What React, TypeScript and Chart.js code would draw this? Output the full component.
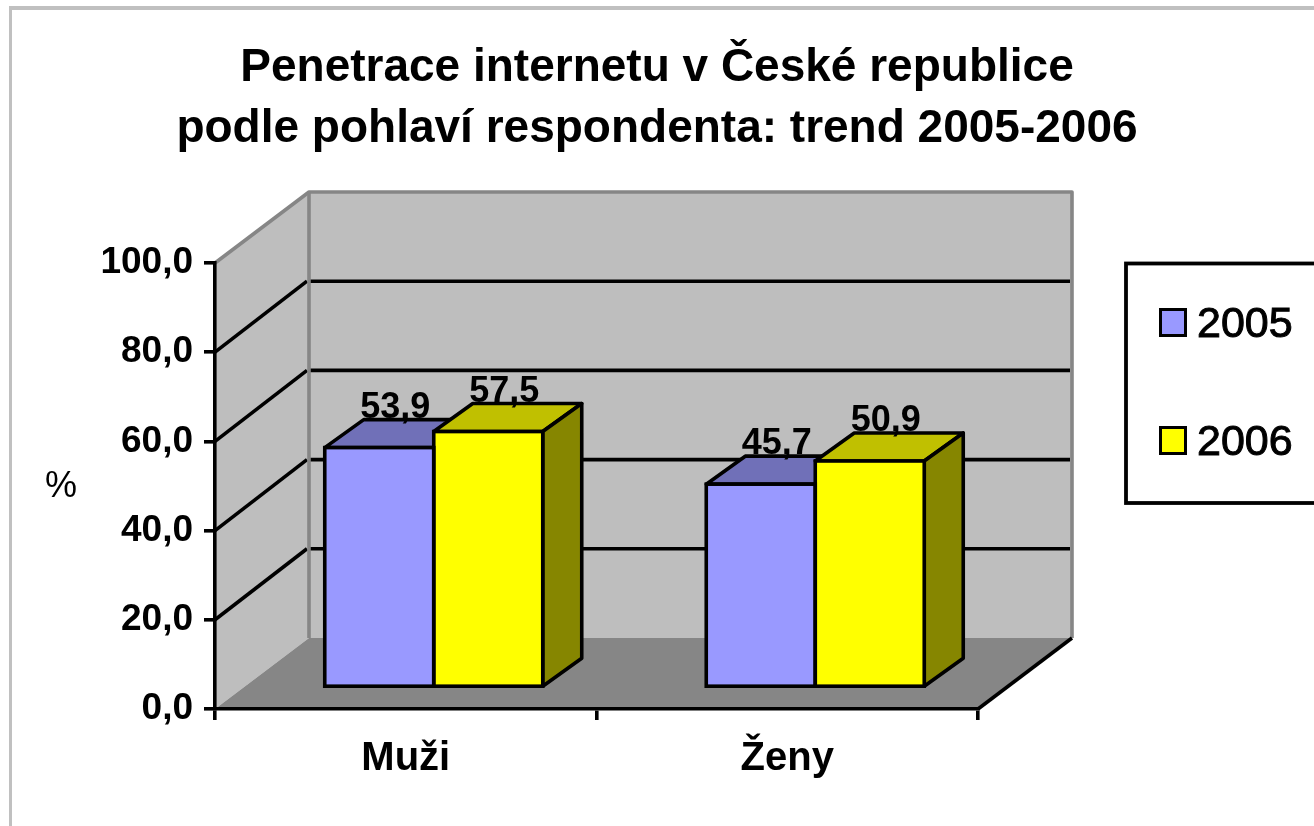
import React, { useEffect, useRef } from "react";
import { Chart, registerables } from "chart.js";

Chart.register(...registerables);

const titleLines = ["Penetrace internetu v České republice", "podle pohlaví respondenta: trend 2005-2006"];
const categories = ["Muži", "Ženy"];
const years = ["2005", "2006"];
const values2005 = [53.9, 45.7];
const values2006 = [57.5, 50.9];
const faceColors = ["#9999FF", "#FFFF00"];
const topColors = ["#7070B8", "#C0C000"];
const sideColors = ["#6C6CB0", "#868600"];
const unitLabel = "%";

const FONT = '"Liberation Sans", Arial, sans-serif';
const WALL_DX = 94;
const WALL_DY = -71;
const BAR_DX = 28;
const BAR_DY = -21;
const DEPTH_DX = 39;
const DEPTH_DY = -28;
const LINE = 3.6;

function poly(ctx: CanvasRenderingContext2D, pts: number[][], fill: string | null, stroke: string | null, lw = LINE) {
  ctx.beginPath();
  pts.forEach((p, i) => (i ? ctx.lineTo(p[0], p[1]) : ctx.moveTo(p[0], p[1])));
  if (fill) {
    ctx.closePath();
    ctx.fillStyle = fill;
    ctx.fill();
  }
  if (stroke) {
    ctx.lineJoin = "round";
    ctx.strokeStyle = stroke;
    ctx.lineWidth = lw;
    ctx.stroke();
  }
}

const scene = {
  id: "scene",
  afterLayout(chart: any) {
    // centre the title on the whole canvas, not on the plot column
    if (chart.titleBlock) {
      chart.titleBlock.left = 0;
      chart.titleBlock.right = chart.width;
      chart.titleBlock.width = chart.width;
    }
  },
  beforeDraw(chart: any) {
    const { ctx, chartArea: a, scales } = chart;
    const y = scales.y;
    ctx.save();
    ctx.fillStyle = "#FFFFFF";
    ctx.fillRect(0, 0, chart.width, chart.height);
    // page frame
    ctx.fillStyle = "#C0C0C0";
    ctx.fillRect(9, 6, chart.width - 9, 4);
    ctx.fillRect(9, 6, 3, chart.height - 6);
    const L = a.left, R = a.right, T = a.top, B = a.bottom;
    const d = (x: number, yy: number) => [x + WALL_DX, yy + WALL_DY];
    // walls and floor
    poly(ctx, [[L, T], d(L, T), d(L, B), [L, B]], "#BEBEBE", null);
    poly(ctx, [d(L, T), d(R, T), d(R, B), d(L, B)], "#BEBEBE", null);
    poly(ctx, [[L, B], [R, B], d(R, B), d(L, B)], "#868686", null);
    // gridlines on both walls
    y.ticks.forEach((t: any) => {
      if (t.value === 0 || t.value === 100) return;
      const py = y.getPixelForValue(t.value);
      poly(ctx, [[L, py], d(L - 2, py)], null, "#000000");
      poly(ctx, [d(L, py), d(R - 2, py)], null, "#000000");
    });
    // wall edges
    poly(ctx, [[L, T], d(L, T), d(R, T), d(R, B)], null, "#868686");
    poly(ctx, [d(L, T), d(L, B)], null, "#868686");
    poly(ctx, [[R, B], d(R, B)], null, "#000000");
    // axis title
    ctx.fillStyle = "#000000";
    ctx.font = `36px ${FONT}`;
    ctx.textAlign = "center";
    ctx.textBaseline = "alphabetic";
    ctx.fillText(unitLabel, 61, 497);
    ctx.restore();
  },
  beforeDatasetsDraw(chart: any) {
    const { ctx } = chart;
    ctx.save();
    [0, 1].forEach((ds) => {
      chart.getDatasetMeta(ds).data.forEach((bar: any) => {
        const hw = bar.width / 2;
        const l = bar.x - hw + BAR_DX, r = bar.x + hw + BAR_DX;
        const t = bar.y + BAR_DY, b = bar.base + BAR_DY;
        poly(ctx, [[l, t], [l + DEPTH_DX, t + DEPTH_DY], [r + DEPTH_DX, t + DEPTH_DY], [r, t]], topColors[ds], "#000000");
        poly(ctx, [[r, t], [r + DEPTH_DX, t + DEPTH_DY], [r + DEPTH_DX, b + DEPTH_DY], [r, b]], sideColors[ds], "#000000");
      });
    });
    ctx.translate(BAR_DX, BAR_DY);
  },
  afterDatasetsDraw(chart: any) {
    const { ctx } = chart;
    ctx.restore();
    ctx.save();
    [0, 1].forEach((ds) => {
      chart.getDatasetMeta(ds).data.forEach((bar: any) => {
        const hw = bar.width / 2;
        ctx.strokeStyle = "#000000";
        ctx.lineWidth = LINE;
        ctx.strokeRect(bar.x - hw + BAR_DX, bar.y + BAR_DY, hw * 2, bar.base - bar.y);
      });
    });
    // value labels
    ctx.fillStyle = "#000000";
    ctx.font = `bold 36px ${FONT}`;
    ctx.textAlign = "center";
    ctx.textBaseline = "alphabetic";
    [0, 1].forEach((ds) => {
      const vals = chart.data.datasets[ds].data;
      chart.getDatasetMeta(ds).data.forEach((bar: any, i: number) => {
        ctx.fillText(vals[i].toFixed(1).replace(".", ","), bar.x + BAR_DX + 16, bar.y + BAR_DY - 30);
      });
    });
    // legend
    ctx.strokeStyle = "#000000";
    ctx.lineWidth = 3.8;
    ctx.strokeRect(1126, 263.5, 200, 239.5);
    const rows = [309.5, 427.5];
    ctx.textAlign = "left";
    ctx.font = `43px ${FONT}`;
    years.forEach((label, i) => {
      ctx.fillStyle = faceColors[i];
      ctx.fillRect(1160.5, rows[i], 25, 26);
      ctx.lineWidth = 3;
      ctx.strokeStyle = "#000000";
      ctx.strokeRect(1160.5, rows[i], 25, 26);
      ctx.fillStyle = "#000000";
      ctx.fillText(label, 1197, rows[i] + 27);
      ctx.lineWidth = 1;
      ctx.strokeText(label, 1197, rows[i] + 27);
    });
    ctx.restore();
  },
};

export default function App() {
  const ref = useRef<HTMLCanvasElement | null>(null);
  useEffect(() => {
    document.body.style.margin = "0";
    const chart = new Chart(ref.current as HTMLCanvasElement, {
      type: "bar",
      data: {
        labels: categories,
        datasets: [
          { label: years[0], data: values2005, backgroundColor: faceColors[0], borderWidth: 0 },
          { label: years[1], data: values2006, backgroundColor: faceColors[1], borderWidth: 0 },
        ],
      },
      plugins: [scene],
      options: {
        responsive: false,
        animation: false,
        layout: { padding: { left: 0, right: 336, top: 0, bottom: 0 } },
        datasets: { bar: { categoryPercentage: 0.5714, barPercentage: 1 } },
        plugins: {
          legend: { display: false },
          tooltip: { enabled: false },
          title: {
            display: true,
            text: titleLines,
            color: "#000000",
            font: { family: FONT, size: 46, weight: "bold", lineHeight: 1.326 },
            padding: { top: 38, bottom: 103 },
          },
        },
        scales: {
          x: {
            afterFit: (s: any) => { s.height = 117; },
            grid: { drawOnChartArea: false, color: "#000000", lineWidth: LINE, tickLength: 11 },
            border: { color: "#000000", width: LINE },
            ticks: { color: "#000000", font: { family: FONT, size: 40, weight: "bold" }, padding: 15, maxRotation: 0 },
          },
          y: {
            min: 0,
            max: 100,
            afterFit: (s: any) => { s.width = 215; },
            grid: { drawOnChartArea: false, color: "#000000", lineWidth: LINE, tickLength: 11 },
            border: { color: "#000000", width: LINE },
            ticks: {
              stepSize: 20,
              color: "#000000",
              padding: 11,
              font: { family: FONT, size: 37, weight: "bold" },
              callback: (v: any) => Number(v).toFixed(1).replace(".", ","),
            },
          },
        },
      },
    } as any);
    return () => chart.destroy();
  }, []);
  return <canvas ref={ref} width={1314} height={826} style={{ display: "block" }} />;
}
